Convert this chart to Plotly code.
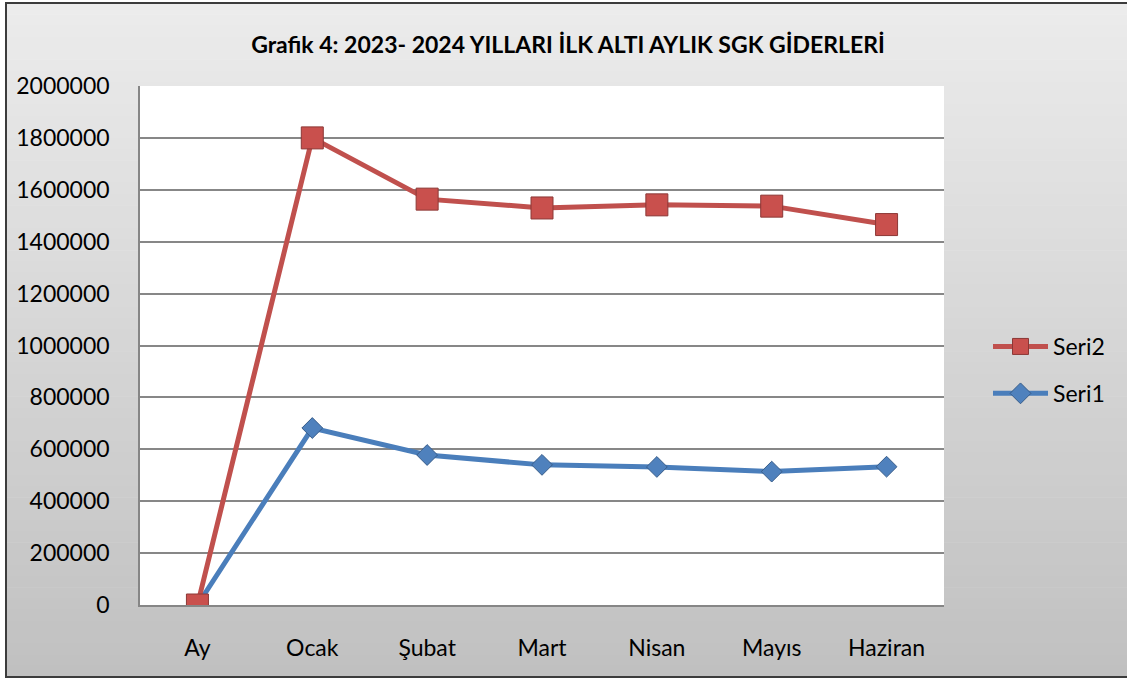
import plotly.graph_objects as go

categories = ["Ay", "Ocak", "Şubat", "Mart", "Nisan", "Mayıs", "Haziran"]
seri1 = [0, 682000, 578000, 540000, 532000, 514000, 533000]
seri2 = [0, 1800000, 1564000, 1530000, 1542000, 1537000, 1466000]
y_ticks = [0, 200000, 400000, 600000, 800000, 1000000, 1200000, 1400000, 1600000, 1800000, 2000000]

W, H = 1127, 678
L, R, T, B = 140, 944, 86, 605


def px_x(p):
    return (p - L) / (R - L)


def px_y(p):
    return (B - p) / (B - T)


FONT = "Lato"

fig = go.Figure()
fig.add_trace(go.Scatter(
    x=categories, y=seri1, name="Seri1", mode="lines+markers", legendgroup="g1",
    legendrank=2,
    line=dict(color="#4a7ebb", width=5),
    marker=dict(symbol="diamond", size=16, color="#4f81bd",
                line=dict(color="#385d8a", width=1)),
))
fig.add_trace(go.Scatter(
    x=categories, y=seri2, name="Seri2", mode="lines+markers", legendgroup="g2",
    legendrank=1,
    line=dict(color="#c0504d", width=5),
    marker=dict(symbol="square", size=22, color="#c9504d",
                line=dict(color="#8c3836", width=1)),
))

shapes = []
# gradient background of chart area
top, bot, left, right = 3, 677, 6, 1140
n = 60
c0, c1 = 236, 192
for i in range(n):
    y0 = top + (bot - top) * i / n
    y1 = top + (bot - top) * (i + 1) / n + 0.6
    c = round(c0 + (c1 - c0) * (i + 0.5) / n)
    shapes.append(dict(type="rect", xref="paper", yref="paper",
                       x0=px_x(left), x1=px_x(right), y0=px_y(y1), y1=px_y(y0),
                       fillcolor=f"rgb({c},{c},{c})", line=dict(width=0), layer="below"))
# plot area white
shapes.append(dict(type="rect", xref="paper", yref="paper", x0=0, x1=1, y0=0, y1=1,
                   fillcolor="white", line=dict(width=0), layer="below"))
# chart border
shapes.append(dict(type="rect", xref="paper", yref="paper",
                   x0=px_x(left), x1=px_x(right), y0=px_y(bot), y1=px_y(top),
                   line=dict(color="#3c3c3c", width=2), fillcolor="rgba(0,0,0,0)", layer="above"))

fig.update_layout(
    width=W, height=H,
    margin=dict(l=L, r=W - R, t=T, b=H - B),
    paper_bgcolor="white",
    plot_bgcolor="rgba(0,0,0,0)",
    font=dict(family=FONT, color="black", size=23),
    title=dict(text="<b>Grafik 4: 2023- 2024 YILLARI İLK ALTI AYLIK SGK GİDERLERİ</b>",
               x=568 / W, xref="container", xanchor="center",
               y=1 - 45 / H, yref="container", yanchor="middle",
               font=dict(family=FONT, size=23, color="black")),
    shapes=shapes,
    showlegend=True,
    legend=dict(x=px_x(988), y=px_y(370), xanchor="left", yanchor="middle",
                traceorder="grouped", bgcolor="rgba(0,0,0,0)",
                font=dict(family=FONT, size=23, color="black"),
                itemwidth=55, tracegroupgap=14),
    xaxis=dict(type="category", range=[-0.5, 6.5], showgrid=False,
               showline=True, linecolor="#868686", linewidth=1.5,
               ticks="", ticklabelstandoff=22, tickfont=dict(size=23)),
    yaxis=dict(range=[0, 2000000], tickvals=y_ticks, ticktext=[str(v) for v in y_ticks],
               showgrid=True, gridcolor="#878787", gridwidth=1.5,
               showline=True, linecolor="#868686", linewidth=1.5,
               zeroline=False, ticks="", ticklabelstandoff=24, tickfont=dict(size=23)),
)

fig.write_html("out.html", config={"displayModeBar": False},
               post_script="document.body.style.margin='0px';document.body.style.overflow='hidden';")
